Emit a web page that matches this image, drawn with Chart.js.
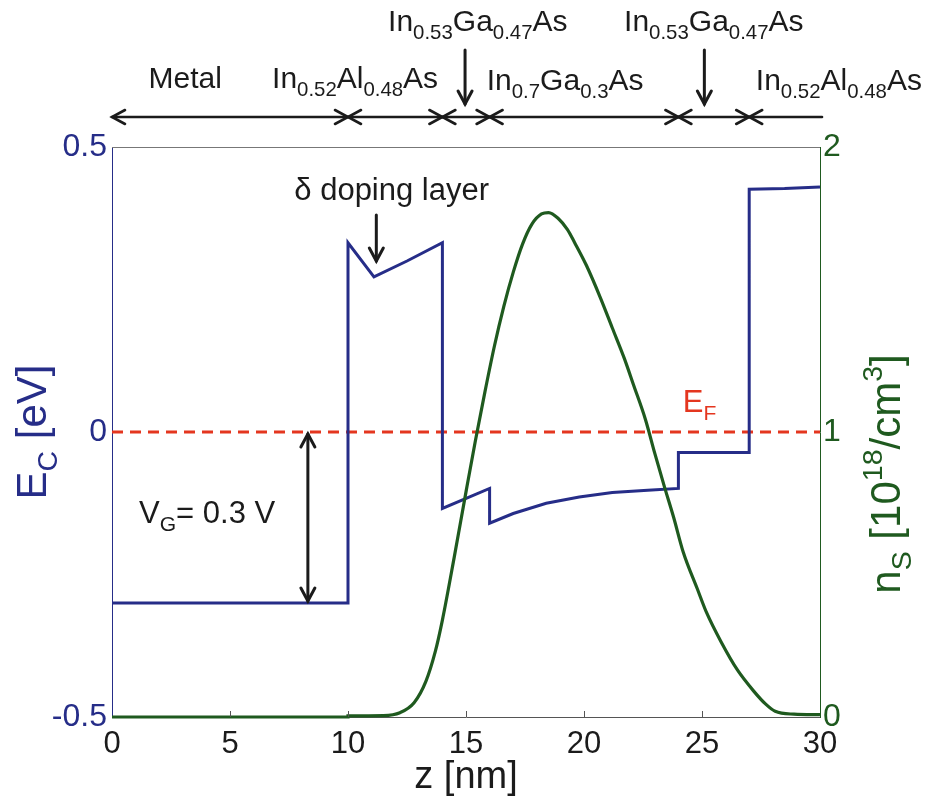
<!DOCTYPE html>
<html>
<head>
<meta charset="utf-8">
<script src="https://cdn.jsdelivr.net/npm/chart.js@4.4.1/dist/chart.umd.min.js"></script>
<style>
  html, body { margin: 0; padding: 0; background: #fff; }
  #wrap { width: 933px; height: 799px; }
</style>
</head>
<body>
<div id="wrap"><canvas id="band" width="933" height="799"></canvas></div>
<script>
// conduction band edge along the stack (z in nm, Ec in eV)
const zBand = [0, 10, 10, 11.1, 12.5, 14, 14, 16, 16, 17, 18.4, 19.8, 21.2, 22.7, 24, 24, 27, 27, 28.5, 30];
const ecBand = [-0.3, -0.3, 0.332, 0.272, 0.3, 0.332, -0.134, -0.099, -0.16, -0.143, -0.125, -0.114, -0.106, -0.102, -0.099, -0.036, -0.036, 0.426, 0.427, 0.43];

// electron density, 10^18 cm^-3
const zDens = [0, 10, 10, 11.5, 12.2, 12.8, 13.3, 13.7, 14.0, 14.5, 15.0, 15.4, 15.8, 16.2, 16.6, 17.0, 17.4, 17.8, 18.2, 18.5, 18.9, 19.3, 19.6, 20.1, 20.7, 21.2, 21.7, 22.1, 22.6, 23.0, 23.4, 23.8, 24.2, 24.8, 25.2, 25.8, 26.5, 27.2, 27.7, 28.1, 28.9, 30];
const nDens = [0, 0, 0.004, 0.005, 0.015, 0.05, 0.125, 0.23, 0.34, 0.56, 0.79, 0.97, 1.14, 1.3, 1.44, 1.56, 1.66, 1.73, 1.765, 1.77, 1.75, 1.71, 1.665, 1.585, 1.47, 1.365, 1.26, 1.165, 1.045, 0.925, 0.81, 0.7, 0.58, 0.45, 0.365, 0.265, 0.165, 0.09, 0.045, 0.02, 0.01, 0.008];

// Fermi level
const zFermi = [0, 30];
const eFermi = [0, 0];

// layer boundaries (nm)
const layerEdges = [0, 10, 14, 16, 24, 27, 30];

const xTicks = [0, 5, 10, 15, 20, 25, 30];

const NAVY = '#262d88';
const GREEN = '#1f5a1f';
const RED = '#e4361f';
const INK = '#1b1b1b';
const FONT = '"Liberation Sans", Arial, Helvetica, sans-serif';

const toPoints = (xs, ys) => xs.map((x, i) => ({ x: x, y: ys[i] }));

// text with sub/superscripts: parts = [[text, shift]], shift -1 sub, 1 sup
function richText(ctx, parts, x, y, align, size, color) {
  ctx.fillStyle = color;
  ctx.textBaseline = 'alphabetic';
  ctx.textAlign = 'left';
  const widths = parts.map(([t, s]) => {
    ctx.font = (s ? size * 0.68 : size) + 'px ' + FONT;
    return ctx.measureText(t).width;
  });
  const total = widths.reduce((a, b) => a + b, 0);
  let cx = align === 'center' ? x - total / 2 : align === 'right' ? x - total : x;
  parts.forEach(([t, s], i) => {
    ctx.font = (s ? size * 0.68 : size) + 'px ' + FONT;
    const dy = s < 0 ? size * 0.26 : s > 0 ? -size * 0.42 : 0;
    ctx.fillText(t, cx, y + dy);
    cx += widths[i];
  });
}

function head(ctx, x, y, ang, len, half) {
  ctx.beginPath();
  ctx.moveTo(x + len * Math.cos(ang) - half * Math.sin(ang), y + len * Math.sin(ang) + half * Math.cos(ang));
  ctx.lineTo(x, y);
  ctx.lineTo(x + len * Math.cos(ang) + half * Math.sin(ang), y + len * Math.sin(ang) - half * Math.cos(ang));
  ctx.stroke();
}

function arrow(ctx, x1, y1, x2, y2, startHead, endHead) {
  ctx.beginPath();
  ctx.moveTo(x1, y1);
  ctx.lineTo(x2, y2);
  ctx.stroke();
  const ang = Math.atan2(y2 - y1, x2 - x1);
  if (endHead) head(ctx, x2, y2, ang + Math.PI, 13, 7);
  if (startHead) head(ctx, x1, y1, ang, 13, 7);
}

const decorations = {
  id: 'decorations',
  afterDraw(chart) {
    const { ctx, chartArea: a, scales } = chart;
    const px = v => scales.x.getPixelForValue(v);
    const py = v => scales.y.getPixelForValue(v);
    ctx.save();

    // top frame line
    ctx.strokeStyle = '#777';
    ctx.lineWidth = 1;
    ctx.beginPath();
    ctx.moveTo(a.left, a.top + 0.5);
    ctx.lineTo(a.right, a.top + 0.5);
    ctx.stroke();

    // inward ticks on z axis
    ctx.strokeStyle = '#555';
    xTicks.slice(1, -1).forEach(v => {
      ctx.beginPath();
      ctx.moveTo(Math.round(px(v)) + 0.5, a.bottom);
      ctx.lineTo(Math.round(px(v)) + 0.5, a.bottom - 6);
      ctx.stroke();
    });

    // layer span arrows
    ctx.strokeStyle = INK;
    ctx.lineWidth = 2.6;
    ctx.lineCap = 'round';
    const rowY = 117;
    for (let i = 0; i < layerEdges.length - 1; i++) {
      const last = i === layerEdges.length - 2;
      const x1 = px(layerEdges[i]);
      const x2 = last ? a.right + 2 : px(layerEdges[i + 1]);
      arrow(ctx, x1, rowY, x2, rowY, true, !last);
    }

    // pointers to the thin InGaAs layers
    ctx.lineWidth = 3;
    arrow(ctx, px(14.96), 50, px(14.96), 104, false, true);
    arrow(ctx, px(25.1), 50, px(25.1), 104, false, true);

    // delta doping pointer
    arrow(ctx, px(11.2), 215, px(11.2), 261, false, true);

    // gate voltage span
    arrow(ctx, px(8.3), py(0) + 2, px(8.3), py(-0.3) - 2, true, true);

    // layer names
    richText(ctx, [['Metal', 0]], px(3.1), 88, 'center', 30, INK);
    richText(ctx, [['In', 0], ['0.52', -1], ['Al', 0], ['0.48', -1], ['As', 0]], px(10.3), 88, 'center', 30, INK);
    richText(ctx, [['In', 0], ['0.7', -1], ['Ga', 0], ['0.3', -1], ['As', 0]], px(19.2), 90, 'center', 30, INK);
    richText(ctx, [['In', 0], ['0.52', -1], ['Al', 0], ['0.48', -1], ['As', 0]], px(30.8), 90, 'center', 30, INK);
    richText(ctx, [['In', 0], ['0.53', -1], ['Ga', 0], ['0.47', -1], ['As', 0]], px(15.5), 31, 'center', 30, INK);
    richText(ctx, [['In', 0], ['0.53', -1], ['Ga', 0], ['0.47', -1], ['As', 0]], px(25.5), 31, 'center', 30, INK);

    richText(ctx, [['δ doping layer', 0]], px(11.85), 200, 'center', 31, INK);
    richText(ctx, [['V', 0], ['G', -1], ['= 0.3 V', 0]], 139, py(-0.16), 'left', 31, INK);
    richText(ctx, [['E', 0], ['F', -1]], px(24.9), py(0.035), 'center', 31, RED);

    // axis titles
    ctx.save();
    ctx.translate(46, py(0));
    ctx.rotate(-Math.PI / 2);
    richText(ctx, [['E', 0], ['C', -1], [' [eV]', 0]], 0, 0, 'center', 42, NAVY);
    ctx.restore();

    ctx.save();
    ctx.translate(900, 474);
    ctx.rotate(-Math.PI / 2);
    richText(ctx, [['n', 0], ['S', -1], [' [10', 0], ['18', 1], ['/cm', 0], ['3', 1], [']', 0]], 0, 0, 'center', 42, GREEN);
    ctx.restore();

    richText(ctx, [['z [nm]', 0]], px(15), 788, 'center', 38, INK);

    ctx.restore();
  }
};

new Chart(document.getElementById('band'), {
  type: 'line',
  data: {
    datasets: [
      {
        label: 'ns',
        data: toPoints(zDens, nDens),
        yAxisID: 'y2',
        borderColor: GREEN,
        borderWidth: 3.2,
        pointRadius: 0,
        cubicInterpolationMode: 'monotone',
        clip: false,
        order: 0
      },
      {
        label: 'Ec',
        data: toPoints(zBand, ecBand),
        yAxisID: 'y',
        borderColor: NAVY,
        borderWidth: 3,
        pointRadius: 0,
        tension: 0,
        clip: false,
        order: 1
      },
      {
        label: 'EF',
        data: toPoints(zFermi, eFermi),
        yAxisID: 'y',
        borderColor: RED,
        borderWidth: 3,
        borderDash: [11, 7],
        pointRadius: 0,
        clip: false,
        order: 2
      }
    ]
  },
  options: {
    responsive: false,
    animation: false,
    layout: { padding: { top: 147, left: 0, right: 0, bottom: 0 } },
    plugins: {
      legend: { display: false },
      tooltip: { enabled: false }
    },
    scales: {
      x: {
        type: 'linear',
        min: 0,
        max: 30,
        ticks: { stepSize: 5, color: INK, font: { family: FONT, size: 31 }, padding: 9, maxRotation: 0 },
        grid: { display: false, drawTicks: false },
        border: { color: '#555', width: 1 },
        afterFit: s => { s.height = 82; }
      },
      y: {
        position: 'left',
        min: -0.5,
        max: 0.5,
        ticks: { stepSize: 0.5, color: NAVY, font: { family: FONT, size: 32 }, padding: 5, callback: v => String(v) },
        grid: { display: false, drawTicks: false },
        border: { color: NAVY, width: 1 },
        afterFit: s => { s.width = 112; }
      },
      y2: {
        position: 'right',
        min: 0,
        max: 2,
        ticks: { stepSize: 1, color: GREEN, font: { family: FONT, size: 32 }, padding: 3 },
        grid: { display: false, drawTicks: false },
        border: { color: GREEN, width: 1 },
        afterFit: s => { s.width = 113; }
      }
    }
  },
  plugins: [decorations]
});
</script>
</body>
</html>
